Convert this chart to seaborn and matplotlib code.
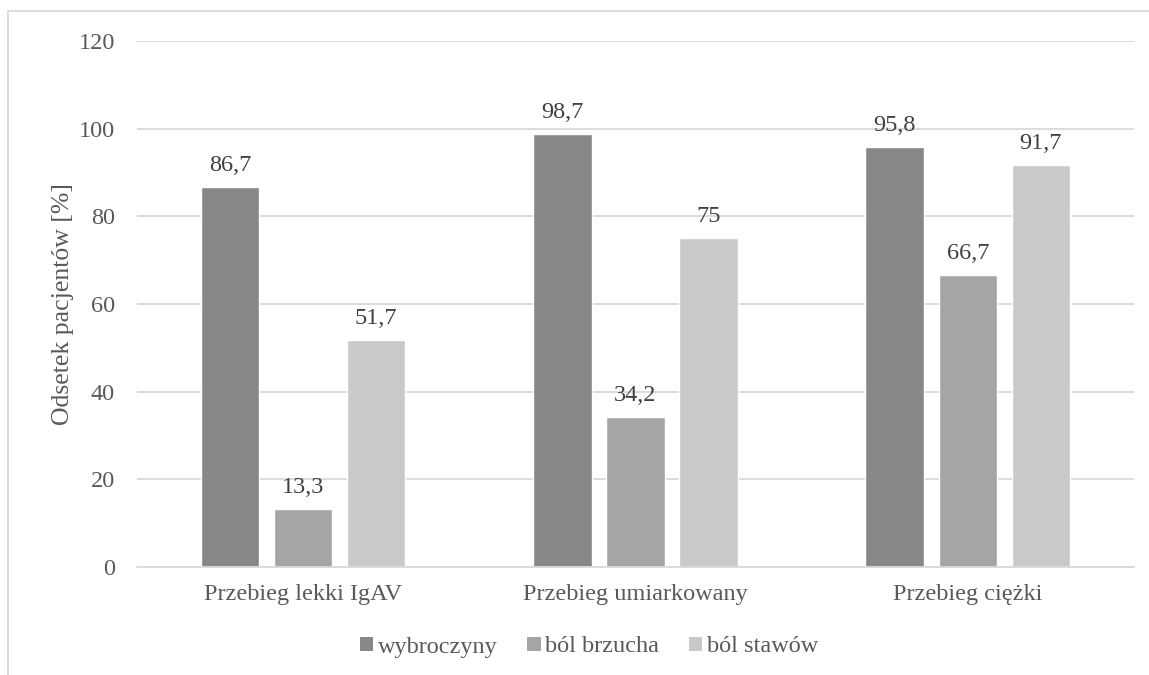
import matplotlib
matplotlib.use("Agg")
import matplotlib.pyplot as plt
import seaborn as sns
import pandas as pd
from matplotlib.patches import Rectangle, Patch

categories = ["Przebieg lekki IgAV", "Przebieg umiarkowany", "Przebieg ciężki"]
series = ["wybroczyny", "ból brzucha", "ból stawów"]
wybroczyny = [86.7, 98.7, 95.8]
bol_brzucha = [13.3, 34.2, 66.7]
bol_stawow = [51.7, 75, 91.7]
colors = ["#878787", "#a5a5a5", "#c9c9c9"]
y_ticks = [0, 20, 40, 60, 80, 100, 120]

df = pd.DataFrame({
    "kategoria": categories * 3,
    "objaw": [s for s in series for _ in categories],
    "wartosc": wybroczyny + bol_brzucha + bol_stawow,
})

sns.set_theme(style="white")
plt.rcParams["font.family"] = ["Liberation Serif", "DejaVu Serif"]
text_color = "#595959"
fs = 17.5

fig = plt.figure(figsize=(11.49, 6.75), dpi=100)
ax = fig.add_axes([0.1192, 0.16, 0.8677, 0.7793])

sns.barplot(data=df, x="kategoria", y="wartosc", hue="objaw",
            hue_order=series, order=categories, palette=colors,
            width=0.66, gap=0.2, saturation=1, ax=ax, legend=False)

ax.set_ylim(0, 120)
ax.set_yticks(y_ticks)
ax.set_xlim(-0.5, 2.5)
ax.yaxis.grid(True, color="#d9d9d9", linewidth=1.3)
ax.set_axisbelow(True)
for s in ["top", "right", "left"]:
    ax.spines[s].set_visible(False)
ax.spines["bottom"].set_color("#d9d9d9")
ax.spines["bottom"].set_linewidth(1.3)
ax.tick_params(axis="both", length=0, labelsize=fs, colors=text_color)
ax.tick_params(axis="y", pad=16)
ax.tick_params(axis="x", pad=12)
ax.set_xlabel("")
ax.set_ylabel("Odsetek pacjentów [%]", fontsize=18.5, color=text_color, labelpad=3)

for container in ax.containers:
    labels = [f"{b.get_height():g}".replace(".", ",") for b in container]
    ax.bar_label(container, labels=labels, padding=8, fontsize=fs, color="#404040")

handles = [Patch(facecolor=c, edgecolor="none") for c in colors]
fig.legend(handles, series, loc="center", bbox_to_anchor=(589 / 1149, 1 - 647 / 675),
           ncol=3, frameon=False, fontsize=fs, handlelength=0.55, handleheight=0.55,
           handletextpad=0.2, columnspacing=1.2, labelcolor=text_color)

# outer chart frame
fig.patches.append(Rectangle((8 / 1149, -0.1), 1.2, 1 - 11 / 675 + 0.1,
                             transform=fig.transFigure, fill=False,
                             edgecolor="#d9d9d9", linewidth=1.3))

fig.savefig("out.png", dpi=100, facecolor="white")
